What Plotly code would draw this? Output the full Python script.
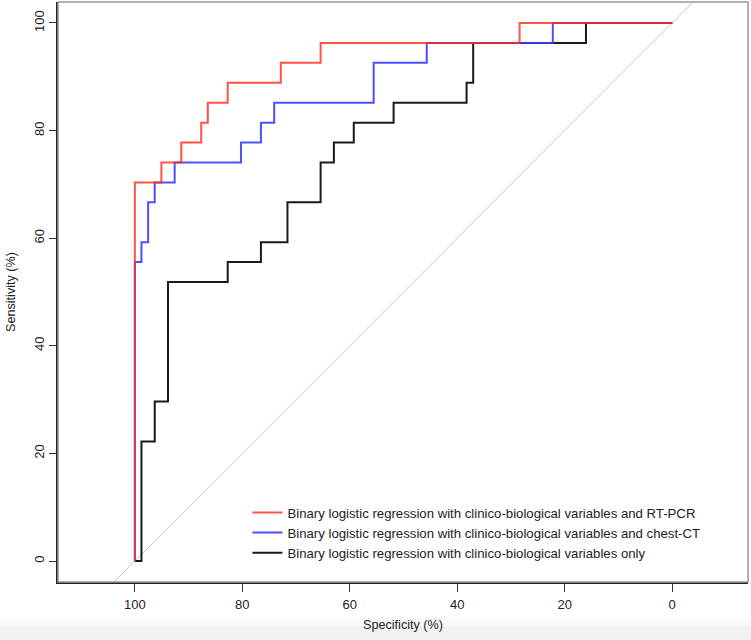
import plotly.graph_objects as go

# ROC step points (specificity %, sensitivity %)
red_spec = [100, 100, 95.06, 91.36, 87.65, 86.42, 82.72, 72.84, 65.43, 28.40, 0]
red_sens = [0, 70.37, 74.07, 77.78, 81.48, 85.19, 88.89, 92.59, 96.30, 100, 100]

blue_spec = [100, 100, 98.77, 97.53, 96.30, 92.59, 80.25, 76.54, 74.07, 55.56, 45.68, 22.22, 0]
blue_sens = [0, 55.56, 59.26, 66.67, 70.37, 74.07, 77.78, 81.48, 85.19, 92.59, 96.30, 100, 100]

black_spec = [100, 98.77, 96.30, 93.83, 82.72, 76.54, 71.60, 65.43, 62.96, 59.26, 51.85, 38.27, 37.04, 16.05, 0]
black_sens = [0, 22.22, 29.63, 51.85, 55.56, 59.26, 66.67, 74.07, 77.78, 81.48, 85.19, 88.89, 96.30, 100, 100]

diag_spec = [130, -30]
diag_sens = [-30, 130]

labels = [
    "Binary logistic regression with clinico-biological variables and RT-PCR",
    "Binary logistic regression with clinico-biological variables and chest-CT",
    "Binary logistic regression with clinico-biological variables only",
]
ticks = [0, 20, 40, 60, 80, 100]

fig = go.Figure()
fig.add_trace(go.Scatter(x=diag_spec, y=diag_sens, mode="lines",
                         line=dict(color="#c8c8c8", width=1), showlegend=False, hoverinfo="skip"))
fig.add_trace(go.Scatter(x=black_spec, y=black_sens, mode="lines", line_shape="hv",
                         line=dict(color="#1a1a1a", width=2), name=labels[2]))
fig.add_trace(go.Scatter(x=blue_spec, y=blue_sens, mode="lines", line_shape="hv",
                         line=dict(color="rgba(60,60,255,0.9)", width=2), name=labels[1]))
fig.add_trace(go.Scatter(x=red_spec, y=red_sens, mode="lines", line_shape="hv",
                         line=dict(color="rgba(255,40,25,0.8)", width=2), name=labels[0]))

fig.update_layout(
    width=751, height=640,
    margin=dict(l=58, r=3, t=2, b=58),
    paper_bgcolor="white", plot_bgcolor="white",
    font=dict(family="Liberation Sans, Arial, sans-serif", size=13, color="#222"),
    showlegend=True,
    legend=dict(x=0.2745, y=0.146, xanchor="left", yanchor="top", traceorder="reversed",
                bgcolor="rgba(0,0,0,0)", borderwidth=0, font=dict(size=13.2, color="#222"),
                tracegroupgap=0),
    shapes=[
        dict(type="rect", xref="paper", yref="paper", x0=0, x1=1, y0=0, y1=1,
             line=dict(color="#999999", width=1.5), layer="above"),
        dict(type="rect", xref="paper", yref="paper", x0=-0.09, x1=1.01, y0=-0.062, y1=-0.075,
             fillcolor="#f9f9f9", line=dict(width=0), layer="below"),
        dict(type="rect", xref="paper", yref="paper", x0=-0.09, x1=1.01, y0=-0.075, y1=-0.11,
             fillcolor="#f1f1f1", line=dict(width=0), layer="below"),
    ],
)
fig.update_xaxes(range=[114.3, -14.1], tickvals=ticks, ticks="outside", ticklen=8,
                 tickcolor="#333", showgrid=False, zeroline=False, showline=True,
                 linecolor="#222", linewidth=1.5, automargin=False, ticklabelstandoff=2,
                 title=dict(text="Specificity (%)", standoff=9, font=dict(size=12.6)))
fig.update_yaxes(range=[-3.9, 103.9], tickvals=ticks, ticks="outside", ticklen=7,
                 tickcolor="#333", tickangle=-90, showgrid=False, zeroline=False,
                 showline=True, linecolor="#222", linewidth=1.5, automargin=False,
                 title=dict(text="Sensitivity (%)", standoff=14, font=dict(size=12.6)))

fig.write_html("out.html", config={"displayModeBar": False},
               post_script="document.body.style.margin='0px';")
